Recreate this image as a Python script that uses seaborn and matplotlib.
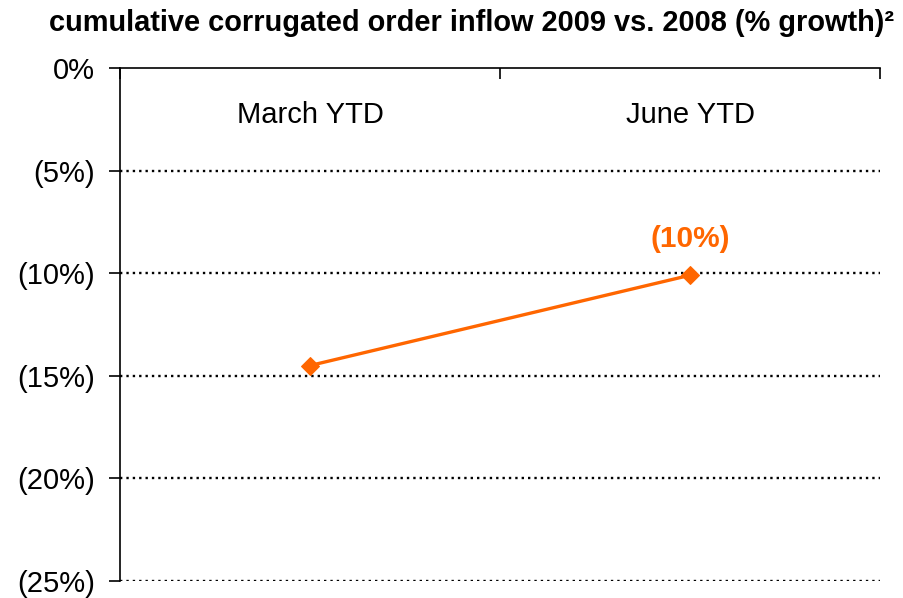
import numpy as np
import pandas as pd
import seaborn as sns
import matplotlib.pyplot as plt

# data
periods = ["March YTD", "June YTD"]
growth = [-14.5, -10.1]
label_text = ["", "(10%)"]
y_ticks = [0, -5, -10, -15, -20, -25]
y_tick_labels = ["0%", "(5%)", "(10%)", "(15%)", "(20%)", "(25%)"]

orange = "#FF6600"

sns.set_style("white")
plt.rcParams["font.family"] = ["Liberation Sans", "DejaVu Sans"]
plt.rcParams["text.color"] = "black"
plt.rcParams["xtick.color"] = "black"
plt.rcParams["ytick.color"] = "black"

df = pd.DataFrame({"period": periods, "growth": growth})
df["x"] = np.arange(len(periods))

fig = plt.figure(figsize=(9.04, 5.98), dpi=100)
ax = fig.add_axes([120 / 904, 1 - 581 / 598, 760 / 904, 513 / 598])

sns.lineplot(data=df, x="x", y="growth", ax=ax, color=orange, linewidth=2.4,
             marker="D", markersize=9, markeredgecolor=orange)

ax.set_xlim(-0.5, len(periods) - 0.5)
ax.set_ylim(-25, 0)

# dotted grid lines
for v in y_ticks[1:]:
    ax.axhline(v, color="black", linestyle=(0, (1, 1.7)), linewidth=1.7, zorder=0)

# axes / spines
for s in ["right", "bottom"]:
    ax.spines[s].set_visible(False)
ax.spines["left"].set_color("black")
ax.spines["left"].set_linewidth(1.2)
ax.spines["top"].set_color("black")
ax.spines["top"].set_linewidth(1.2)

ax.set_yticks(y_ticks)
ax.set_yticklabels(y_tick_labels, fontsize=21)
ax.tick_params(axis="y", direction="out", length=8, width=1.2, left=True, pad=10)

ax.xaxis.tick_top()
ax.set_xticks(np.arange(-0.5, len(periods), 1.0))
ax.set_xticklabels([])
ax.tick_params(axis="x", direction="in", length=8, width=1.2, top=True, bottom=False)

# category labels inside the plot, under the top axis
for i, p in enumerate(periods):
    ax.text(i, -2.3, p, ha="center", va="center", fontsize=21)

# data label
for i, (v, t) in enumerate(zip(growth, label_text)):
    if t:
        ax.annotate(t, (i, v), xytext=(0, 16), textcoords="offset points",
                    ha="center", va="bottom", fontsize=21.5, fontweight="bold", color=orange)

ax.set_xlabel("")
ax.set_ylabel("")

fig.text(472 / 904, 1 - 23 / 598, "cumulative corrugated order inflow 2009 vs. 2008 (% growth)²",
         ha="center", va="center", fontsize=20.9, fontweight="bold")

fig.savefig("out.png", dpi=100)
